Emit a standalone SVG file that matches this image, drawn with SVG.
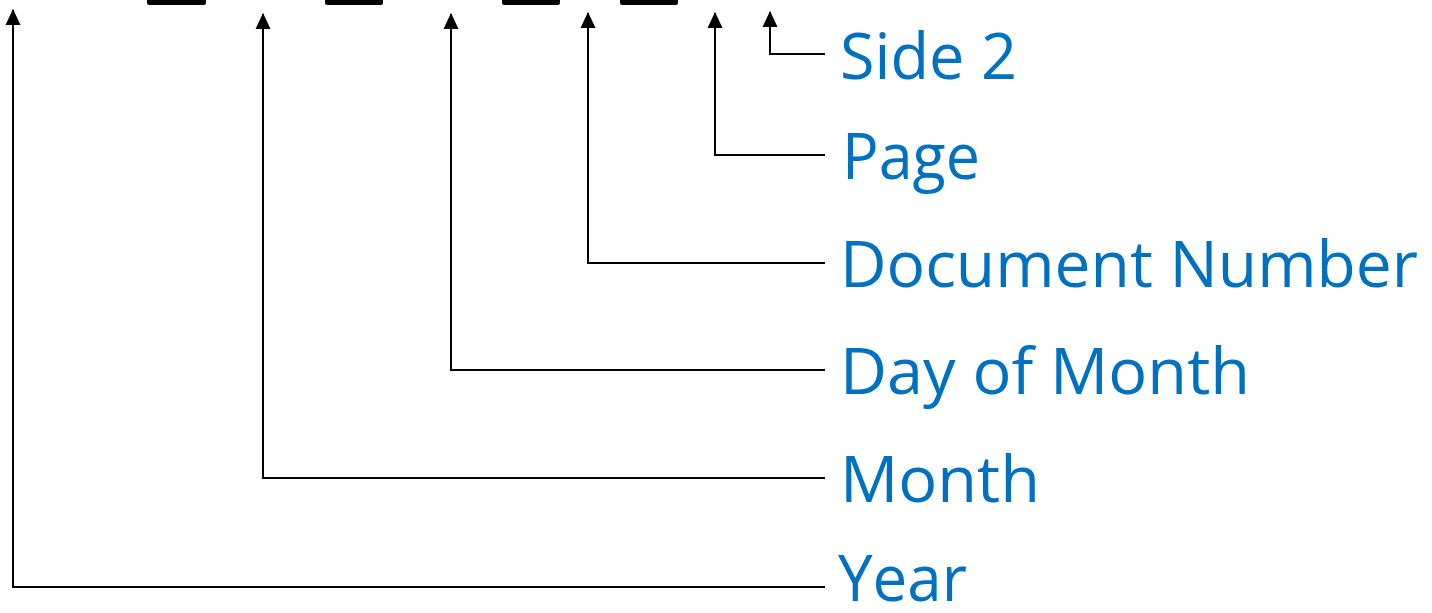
<svg xmlns="http://www.w3.org/2000/svg" width="1432" height="613" viewBox="0 0 1432 613">
<style>
.lbl{font-family:"Open Sans","Noto Sans","Liberation Sans",sans-serif;font-size:64px;fill:#0070C0}
.ln{fill:none;stroke:#000;stroke-width:2}
.bar{fill:#000}
</style>
<defs>
<marker id="ah" viewBox="0 0 16 16" refX="15" refY="8" markerWidth="16" markerHeight="16" markerUnits="userSpaceOnUse" orient="auto">
<path d="M0,0.5 L16,8 L0,15.5 Z" fill="#000"/>
</marker>
</defs>
<g id="bars">
<rect class="bar" x="147" y="-6" width="59" height="11" rx="2.5"/>
<rect class="bar" x="325" y="-6" width="58" height="11" rx="2.5"/>
<rect class="bar" x="502" y="-6" width="58" height="11" rx="2.5"/>
<rect class="bar" x="620" y="-6" width="58" height="11" rx="2.5"/>
</g>
<g id="connectors">
<polyline class="ln" points="825,587 13,587 13,10" marker-end="url(#ah)"/>
<polyline class="ln" points="825,478 263,478 263,14" marker-end="url(#ah)"/>
<polyline class="ln" points="825,370 451,370 451,14" marker-end="url(#ah)"/>
<polyline class="ln" points="825,263 588,263 588,13" marker-end="url(#ah)"/>
<polyline class="ln" points="825,155 715,155 715,13" marker-end="url(#ah)"/>
<polyline class="ln" points="825,54 770,54 770,12" marker-end="url(#ah)"/>
</g>
<g id="side2"><text class="lbl" x="840" y="79" textLength="177" lengthAdjust="spacingAndGlyphs">Side 2</text></g>
<g id="page"><text class="lbl" x="842" y="179" textLength="138" lengthAdjust="spacingAndGlyphs">Page</text></g>
<g id="docnum"><text class="lbl" x="840" y="287" textLength="578" lengthAdjust="spacingAndGlyphs">Document Number</text></g>
<g id="day"><text class="lbl" x="840" y="394" textLength="410" lengthAdjust="spacingAndGlyphs">Day of Month</text></g>
<g id="month"><text class="lbl" x="840" y="502" textLength="200" lengthAdjust="spacingAndGlyphs">Month</text></g>
<g id="year"><text class="lbl" x="838" y="601" textLength="129" lengthAdjust="spacingAndGlyphs">Year</text></g>
</svg>
